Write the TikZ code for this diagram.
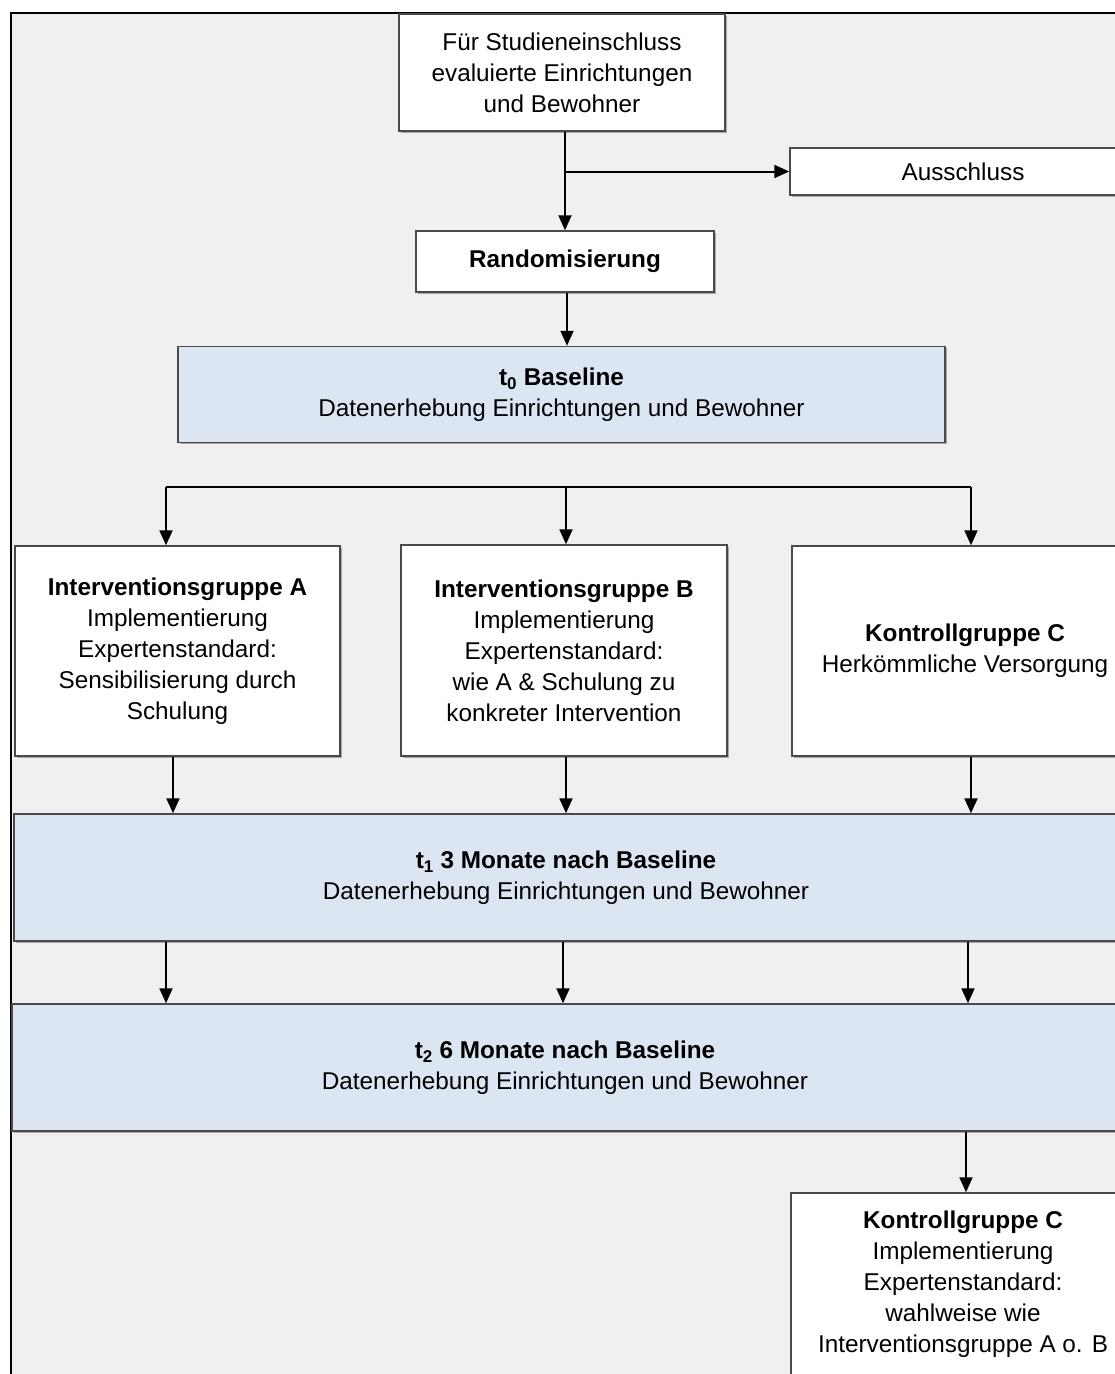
\documentclass[tikz,border=0pt]{standalone}
\usepackage{fontspec}
\setmainfont{Liberation Sans}
\usetikzlibrary{arrows.meta,shadows}

\definecolor{hinter}{HTML}{F0F0F0}
\definecolor{hellblau}{HTML}{DCE6F2}
\definecolor{rahmen}{HTML}{4A4A4A}

\tikzset{
  box/.style={draw=rahmen, line width=1.5pt, fill=white, align=center,
    inner sep=0pt, font=\fontsize{24.3}{31}\selectfont,
    drop shadow={shadow xshift=1.5pt, shadow yshift=-1.5pt, fill=black, opacity=0.3}},
  zeit/.style={box, fill=hellblau},
  pfeil/.style={-{Triangle[length=15pt,width=13pt]}, line width=2pt},
}

\begin{document}
\begin{tikzpicture}[x=1pt, y=-1pt]
  \useasboundingbox (0,0) rectangle (1115,1374);
  % Hintergrund
  \fill[hinter] (11,13) rectangle (1115,1374);
  \draw[line width=2pt] (11,1374) -- (11,13) -- (1115,13);

  % Kaesten
  \node[box, minimum width=326, minimum height=117] (eval) at (562,72.5)
    {F\"ur Studieneinschluss\\evaluierte Einrichtungen\\und Bewohner};
  \node[box, minimum width=346, minimum height=47] (aus) at (963,171.5) {Ausschluss};
  \node[box, minimum width=298, minimum height=61] (rand) at (565,261.5)
    {\textbf{Randomisierung}};
  \node[zeit, minimum width=767, minimum height=96] (tnull) at (561.5,394.5)
    {\textbf{t\textsubscript{0} Baseline}\\Datenerhebung Einrichtungen und Bewohner};
  \node[box, minimum width=325, minimum height=210] (grpA) at (177.5,651)
    {\textbf{Interventionsgruppe A}\\Implementierung\\Expertenstandard:\\Sensibilisierung durch\\Schulung};
  \node[box, minimum width=326, minimum height=211] (grpB) at (564,650.5)
    {\textbf{Interventionsgruppe B}\\Implementierung\\Expertenstandard:\\wie A \& Schulung zu\\konkreter Intervention};
  \node[box, minimum width=346, minimum height=210] (grpC) at (965,651)
    {\textbf{Kontrollgruppe C}\\Herk\"ommliche Versorgung};
  \node[zeit, minimum width=1104, minimum height=127] (teins) at (566,877.5)
    {\textbf{t\textsubscript{1} 3 Monate nach Baseline}\\Datenerhebung Einrichtungen und Bewohner};
  \node[zeit, minimum width=1106, minimum height=127] (tzwei) at (565,1067.5)
    {\textbf{t\textsubscript{2} 6 Monate nach Baseline}\\Datenerhebung Einrichtungen und Bewohner};
  \node[box, minimum width=344, minimum height=183] (kontr) at (963,1284.5)
    {\textbf{Kontrollgruppe C}\\Implementierung\\Expertenstandard:\\wahlweise wie\\Interventionsgruppe A o. B};

  % Verbindungen
  \draw[pfeil] (rand.north |- eval.south) -- (rand.north);
  \draw[pfeil] (rand.north |- aus.west) -- (aus.west);
  \draw[pfeil] ([xshift=2]rand.south) -- ([xshift=2]rand.south |- tnull.north);

  \coordinate (sA) at (166,487);
  \coordinate (sB) at (566,487);
  \coordinate (sC) at (971,487);
  \draw[line width=2pt] (sA) -- (sC);
  \draw[pfeil] (sA) -- (sA |- grpA.north);
  \draw[pfeil] (sB) -- (sB |- grpB.north);
  \draw[pfeil] (sC) -- (sC |- grpC.north);

  \draw[pfeil] ([xshift=-4.5]grpA.south) -- ([xshift=-4.5]grpA.south |- teins.north);
  \draw[pfeil] ([xshift=2]grpB.south) -- ([xshift=2]grpB.south |- teins.north);
  \draw[pfeil] ([xshift=6]grpC.south) -- ([xshift=6]grpC.south |- teins.north);

  \draw[pfeil] ([xshift=-400]teins.south) -- ([xshift=-400]teins.south |- tzwei.north);
  \draw[pfeil] ([xshift=-3]teins.south) -- ([xshift=-3]teins.south |- tzwei.north);
  \draw[pfeil] ([xshift=402]teins.south) -- ([xshift=402]teins.south |- tzwei.north);

  \draw[pfeil] ([xshift=3]kontr.north |- tzwei.south) -- ([xshift=3]kontr.north);
\end{tikzpicture}
\end{document}
